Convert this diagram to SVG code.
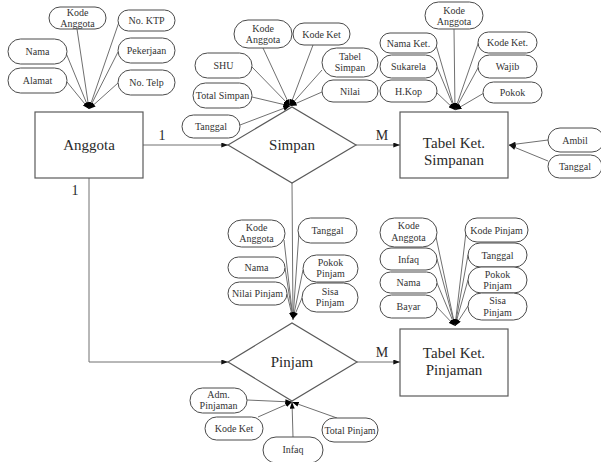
<svg xmlns="http://www.w3.org/2000/svg" width="601" height="462" viewBox="0 0 601 462">
  <style>
    .bg { fill: #ffffff; }
    .link { fill: none; stroke: #707070; stroke-width: 1; }
    .attr { fill: #ffffff; stroke: #4a4a4a; stroke-width: 1; }
    .ent { fill: #ffffff; stroke: #5a5a5a; stroke-width: 1.2; }
    text { font-family: "Liberation Serif", "Times New Roman", "DejaVu Serif", serif; text-anchor: middle; }
    .t { font-size: 10px; fill: #333333; }
    .big { font-size: 15px; fill: #2a2a2a; }
    .card { font-size: 14px; fill: #2a2a2a; }
  </style>
  <defs>
    <marker id="arrow" viewBox="0 0 8 6" refX="8" refY="3" markerWidth="7" markerHeight="5" markerUnits="userSpaceOnUse" orient="auto">
      <path d="M0,0 L8,3 L0,6 z" fill="#111111"/>
    </marker>
    <marker id="dot" viewBox="0 0 8 6" refX="8" refY="3" markerWidth="7" markerHeight="5" markerUnits="userSpaceOnUse" orient="auto">
      <path d="M0,0 L8,3 L0,6 z" fill="#000000"/>
    </marker>
  </defs>

  <rect class="bg" x="0" y="0" width="601" height="462"/>

  <!-- connectors -->
  <g id="connectors">
    <!-- relationships -->
    <line class="link" x1="143" y1="145" x2="228" y2="145" marker-end="url(#arrow)"/>
    <line class="link" x1="356" y1="145" x2="400" y2="145" marker-end="url(#arrow)"/>
    <polyline class="link" points="89,178 89,362 228,362" marker-end="url(#arrow)"/>
    <line class="link" x1="357" y1="362" x2="400" y2="362" marker-end="url(#arrow)"/>
    <line class="link" x1="292" y1="183" x2="293" y2="320" marker-end="url(#dot)"/>

    <!-- Anggota attributes -->
    <line class="link" x1="77" y1="29" x2="89" y2="109" marker-end="url(#dot)"/>
    <line class="link" x1="119" y1="22" x2="89" y2="109" marker-end="url(#dot)"/>
    <line class="link" x1="66" y1="53" x2="89" y2="109" marker-end="url(#dot)"/>
    <line class="link" x1="118" y1="52" x2="89" y2="109" marker-end="url(#dot)"/>
    <line class="link" x1="67" y1="82" x2="89" y2="109" marker-end="url(#dot)"/>
    <line class="link" x1="118" y1="83" x2="89" y2="109" marker-end="url(#dot)"/>

    <!-- Simpan attributes -->
    <line class="link" x1="263" y1="48" x2="290" y2="106" marker-end="url(#dot)"/>
    <line class="link" x1="313" y1="45" x2="290" y2="106" marker-end="url(#dot)"/>
    <line class="link" x1="252" y1="67" x2="290" y2="106" marker-end="url(#dot)"/>
    <line class="link" x1="322" y1="70" x2="290" y2="106" marker-end="url(#dot)"/>
    <line class="link" x1="252" y1="97" x2="290" y2="106" marker-end="url(#dot)"/>
    <line class="link" x1="322" y1="92" x2="290" y2="106" marker-end="url(#dot)"/>
    <line class="link" x1="240" y1="125" x2="290" y2="106" marker-end="url(#dot)"/>

    <!-- Tabel Ket. Simpanan attributes -->
    <line class="link" x1="454" y1="29" x2="455" y2="110" marker-end="url(#dot)"/>
    <line class="link" x1="436" y1="45" x2="455" y2="110" marker-end="url(#dot)"/>
    <line class="link" x1="479" y1="41" x2="455" y2="110" marker-end="url(#dot)"/>
    <line class="link" x1="437" y1="67" x2="455" y2="110" marker-end="url(#dot)"/>
    <line class="link" x1="479" y1="66" x2="455" y2="110" marker-end="url(#dot)"/>
    <line class="link" x1="436" y1="92" x2="455" y2="110" marker-end="url(#dot)"/>
    <line class="link" x1="484" y1="93" x2="455" y2="110" marker-end="url(#dot)"/>
    <line class="link" x1="548" y1="140" x2="509" y2="145" marker-end="url(#arrow)"/>
    <line class="link" x1="548" y1="161" x2="509" y2="145" marker-end="url(#arrow)"/>

    <!-- Pinjam attributes (top) -->
    <line class="link" x1="284" y1="240" x2="293" y2="319" marker-end="url(#dot)"/>
    <line class="link" x1="299" y1="232" x2="293" y2="319" marker-end="url(#dot)"/>
    <line class="link" x1="285" y1="268" x2="293" y2="319" marker-end="url(#dot)"/>
    <line class="link" x1="303" y1="270" x2="293" y2="319" marker-end="url(#dot)"/>
    <line class="link" x1="287" y1="294" x2="293" y2="319" marker-end="url(#dot)"/>
    <line class="link" x1="302" y1="298" x2="293" y2="319" marker-end="url(#dot)"/>

    <!-- Tabel Ket. Pinjaman attributes -->
    <line class="link" x1="436" y1="237" x2="455" y2="326" marker-end="url(#dot)"/>
    <line class="link" x1="437" y1="259" x2="455" y2="326" marker-end="url(#dot)"/>
    <line class="link" x1="437" y1="283" x2="455" y2="326" marker-end="url(#dot)"/>
    <line class="link" x1="436" y1="306" x2="455" y2="326" marker-end="url(#dot)"/>
    <line class="link" x1="466" y1="232" x2="455" y2="326" marker-end="url(#dot)"/>
    <line class="link" x1="468" y1="255" x2="455" y2="326" marker-end="url(#dot)"/>
    <line class="link" x1="468" y1="280" x2="455" y2="326" marker-end="url(#dot)"/>
    <line class="link" x1="468" y1="306" x2="455" y2="326" marker-end="url(#dot)"/>

    <!-- Pinjam attributes (bottom) -->
    <line class="link" x1="247" y1="400" x2="292" y2="402" marker-end="url(#dot)"/>
    <line class="link" x1="258" y1="417" x2="292" y2="402" marker-end="url(#dot)"/>
    <line class="link" x1="337" y1="418" x2="292" y2="402" marker-end="url(#dot)"/>
    <line class="link" x1="293" y1="437" x2="292" y2="402" marker-end="url(#dot)"/>
  </g>

  <!-- cardinality labels -->
  <g id="cardinality">
    <text class="card" x="162" y="140">1</text>
    <text class="card" x="382" y="140">M</text>
    <text class="card" x="75" y="195">1</text>
    <text class="card" x="382" y="357">M</text>
  </g>

  <!-- entities and relationships -->
  <g id="anggota">
    <rect class="ent" x="35" y="112" width="108" height="66"/>
    <text class="big" x="89" y="150">Anggota</text>
  </g>
  <g id="simpan">
    <polygon class="ent" points="228,145 292,107 356,145 292,183"/>
    <text class="big" x="292" y="150">Simpan</text>
  </g>
  <g id="tabel-ket-simpanan">
    <rect class="ent" x="400" y="112" width="108" height="66"/>
    <text class="big" x="454" y="148">Tabel Ket.</text>
    <text class="big" x="454" y="165">Simpanan</text>
  </g>
  <g id="pinjam">
    <polygon class="ent" points="228,362 292,323 357,362 292,401"/>
    <text class="big" x="292" y="367">Pinjam</text>
  </g>
  <g id="tabel-ket-pinjaman">
    <rect class="ent" x="400" y="329" width="108" height="67"/>
    <text class="big" x="454" y="358">Tabel Ket.</text>
    <text class="big" x="454" y="375">Pinjaman</text>
  </g>

  <!-- Anggota attributes -->
  <g id="ag-kode"><rect class="attr" x="49" y="7" width="57" height="22" rx="11"/><text class="t" x="77.5" y="16">Kode</text><text class="t" x="77.5" y="27">Anggota</text></g>
  <g id="ag-ktp"><rect class="attr" x="118" y="10" width="57" height="21" rx="10.5"/><text class="t" x="146.5" y="24">No. KTP</text></g>
  <g id="ag-nama"><rect class="attr" x="8" y="39" width="59" height="25" rx="12.5"/><text class="t" x="37.5" y="55">Nama</text></g>
  <g id="ag-pekerjaan"><rect class="attr" x="118" y="38" width="57" height="25" rx="12.5"/><text class="t" x="146.5" y="54">Pekerjaan</text></g>
  <g id="ag-alamat"><rect class="attr" x="8" y="68" width="59" height="25" rx="12.5"/><text class="t" x="37.5" y="84">Alamat</text></g>
  <g id="ag-telp"><rect class="attr" x="118" y="70" width="57" height="25" rx="12.5"/><text class="t" x="146.5" y="86">No. Telp</text></g>

  <!-- Simpan attributes -->
  <g id="sp-kode"><rect class="attr" x="234" y="20" width="58" height="28" rx="14"/><text class="t" x="263" y="32">Kode</text><text class="t" x="263" y="43">Anggota</text></g>
  <g id="sp-ket"><rect class="attr" x="293" y="23" width="57" height="22" rx="11"/><text class="t" x="321.5" y="37.5">Kode Ket</text></g>
  <g id="sp-shu"><rect class="attr" x="195" y="53" width="57" height="25" rx="12.5"/><text class="t" x="223.5" y="69">SHU</text></g>
  <g id="sp-tabel"><rect class="attr" x="322" y="48" width="56" height="29" rx="14.5"/><text class="t" x="350" y="60">Tabel</text><text class="t" x="350" y="71">Simpan</text></g>
  <g id="sp-total"><rect class="attr" x="193" y="83" width="59" height="25" rx="12.5"/><text class="t" x="222.5" y="99">Total Simpan</text></g>
  <g id="sp-nilai"><rect class="attr" x="322" y="80" width="56" height="22" rx="11"/><text class="t" x="350" y="94.5">Nilai</text></g>
  <g id="sp-tanggal"><rect class="attr" x="182" y="115" width="58" height="23" rx="11.5"/><text class="t" x="211" y="130">Tanggal</text></g>

  <!-- Tabel Ket. Simpanan attributes -->
  <g id="ks-kode"><rect class="attr" x="425" y="2" width="58" height="27" rx="13.5"/><text class="t" x="454" y="14">Kode</text><text class="t" x="454" y="25">Anggota</text></g>
  <g id="ks-nama"><rect class="attr" x="380" y="33" width="57" height="20" rx="10"/><text class="t" x="408.5" y="46.5">Nama Ket.</text></g>
  <g id="ks-kodeket"><rect class="attr" x="478" y="32" width="59" height="21" rx="10.5"/><text class="t" x="507.5" y="46">Kode Ket.</text></g>
  <g id="ks-sukarela"><rect class="attr" x="380" y="55" width="57" height="23" rx="11.5"/><text class="t" x="408.5" y="70">Sukarela</text></g>
  <g id="ks-wajib"><rect class="attr" x="478" y="55" width="59" height="23" rx="11.5"/><text class="t" x="507.5" y="70">Wajib</text></g>
  <g id="ks-hkop"><rect class="attr" x="380" y="80" width="57" height="22" rx="11"/><text class="t" x="408.5" y="94.5">H.Kop</text></g>
  <g id="ks-pokok"><rect class="attr" x="483" y="82" width="59" height="21" rx="10.5"/><text class="t" x="512.5" y="96">Pokok</text></g>
  <g id="ks-ambil"><rect class="attr" x="548" y="128" width="56" height="24" rx="12"/><text class="t" x="575" y="144">Ambil</text></g>
  <g id="ks-tanggal"><rect class="attr" x="548" y="155" width="54" height="23" rx="11.5"/><text class="t" x="575" y="170">Tanggal</text></g>

  <!-- Pinjam attributes (top) -->
  <g id="pj-kode"><rect class="attr" x="228" y="220" width="57" height="27" rx="13.5"/><text class="t" x="256.5" y="231">Kode</text><text class="t" x="256.5" y="242">Anggota</text></g>
  <g id="pj-tanggal"><rect class="attr" x="298" y="218" width="59" height="25" rx="12.5"/><text class="t" x="327.5" y="234">Tanggal</text></g>
  <g id="pj-nama"><rect class="attr" x="228" y="257" width="57" height="21" rx="10.5"/><text class="t" x="256.5" y="271">Nama</text></g>
  <g id="pj-pokok"><rect class="attr" x="303" y="255" width="55" height="27" rx="13.5"/><text class="t" x="330.5" y="266">Pokok</text><text class="t" x="330.5" y="277">Pinjam</text></g>
  <g id="pj-nilai"><rect class="attr" x="228" y="282" width="59" height="23" rx="11.5"/><text class="t" x="257.5" y="297">Nilai Pinjam</text></g>
  <g id="pj-sisa"><rect class="attr" x="302" y="283" width="56" height="29" rx="14.5"/><text class="t" x="330" y="295">Sisa</text><text class="t" x="330" y="306">Pinjam</text></g>

  <!-- Tabel Ket. Pinjaman attributes -->
  <g id="kp-kode"><rect class="attr" x="380" y="218" width="57" height="29" rx="14.5"/><text class="t" x="408.5" y="229">Kode</text><text class="t" x="408.5" y="241">Anggota</text></g>
  <g id="kp-infaq"><rect class="attr" x="380" y="248" width="57" height="22" rx="11"/><text class="t" x="408.5" y="262.5">Infaq</text></g>
  <g id="kp-nama"><rect class="attr" x="380" y="272" width="57" height="21" rx="10.5"/><text class="t" x="408.5" y="286">Nama</text></g>
  <g id="kp-bayar"><rect class="attr" x="380" y="295" width="57" height="23" rx="11.5"/><text class="t" x="408.5" y="310">Bayar</text></g>
  <g id="kp-kodepinjam"><rect class="attr" x="465" y="218" width="63" height="24" rx="12"/><text class="t" x="496.5" y="233.5">Kode Pinjam</text></g>
  <g id="kp-tanggal"><rect class="attr" x="468" y="243" width="59" height="24" rx="12"/><text class="t" x="497.5" y="258.5">Tanggal</text></g>
  <g id="kp-pokok"><rect class="attr" x="468" y="267" width="59" height="26" rx="13"/><text class="t" x="497.5" y="278">Pokok</text><text class="t" x="497.5" y="289">Pinjam</text></g>
  <g id="kp-sisa"><rect class="attr" x="468" y="293" width="59" height="27" rx="13.5"/><text class="t" x="497.5" y="304">Sisa</text><text class="t" x="497.5" y="316">Pinjam</text></g>

  <!-- Pinjam attributes (bottom) -->
  <g id="pb-adm"><rect class="attr" x="190" y="388" width="57" height="25" rx="12.5"/><text class="t" x="218.5" y="398">Adm.</text><text class="t" x="218.5" y="409">Pinjaman</text></g>
  <g id="pb-kodeket"><rect class="attr" x="205" y="417" width="58" height="23" rx="11.5"/><text class="t" x="234" y="432">Kode Ket</text></g>
  <g id="pb-total"><rect class="attr" x="322" y="418" width="56" height="24" rx="12"/><text class="t" x="350" y="433.5">Total Pinjam</text></g>
  <g id="pb-infaq"><rect class="attr" x="263" y="437" width="60" height="26" rx="13"/><text class="t" x="293" y="453">Infaq</text></g>
</svg>
